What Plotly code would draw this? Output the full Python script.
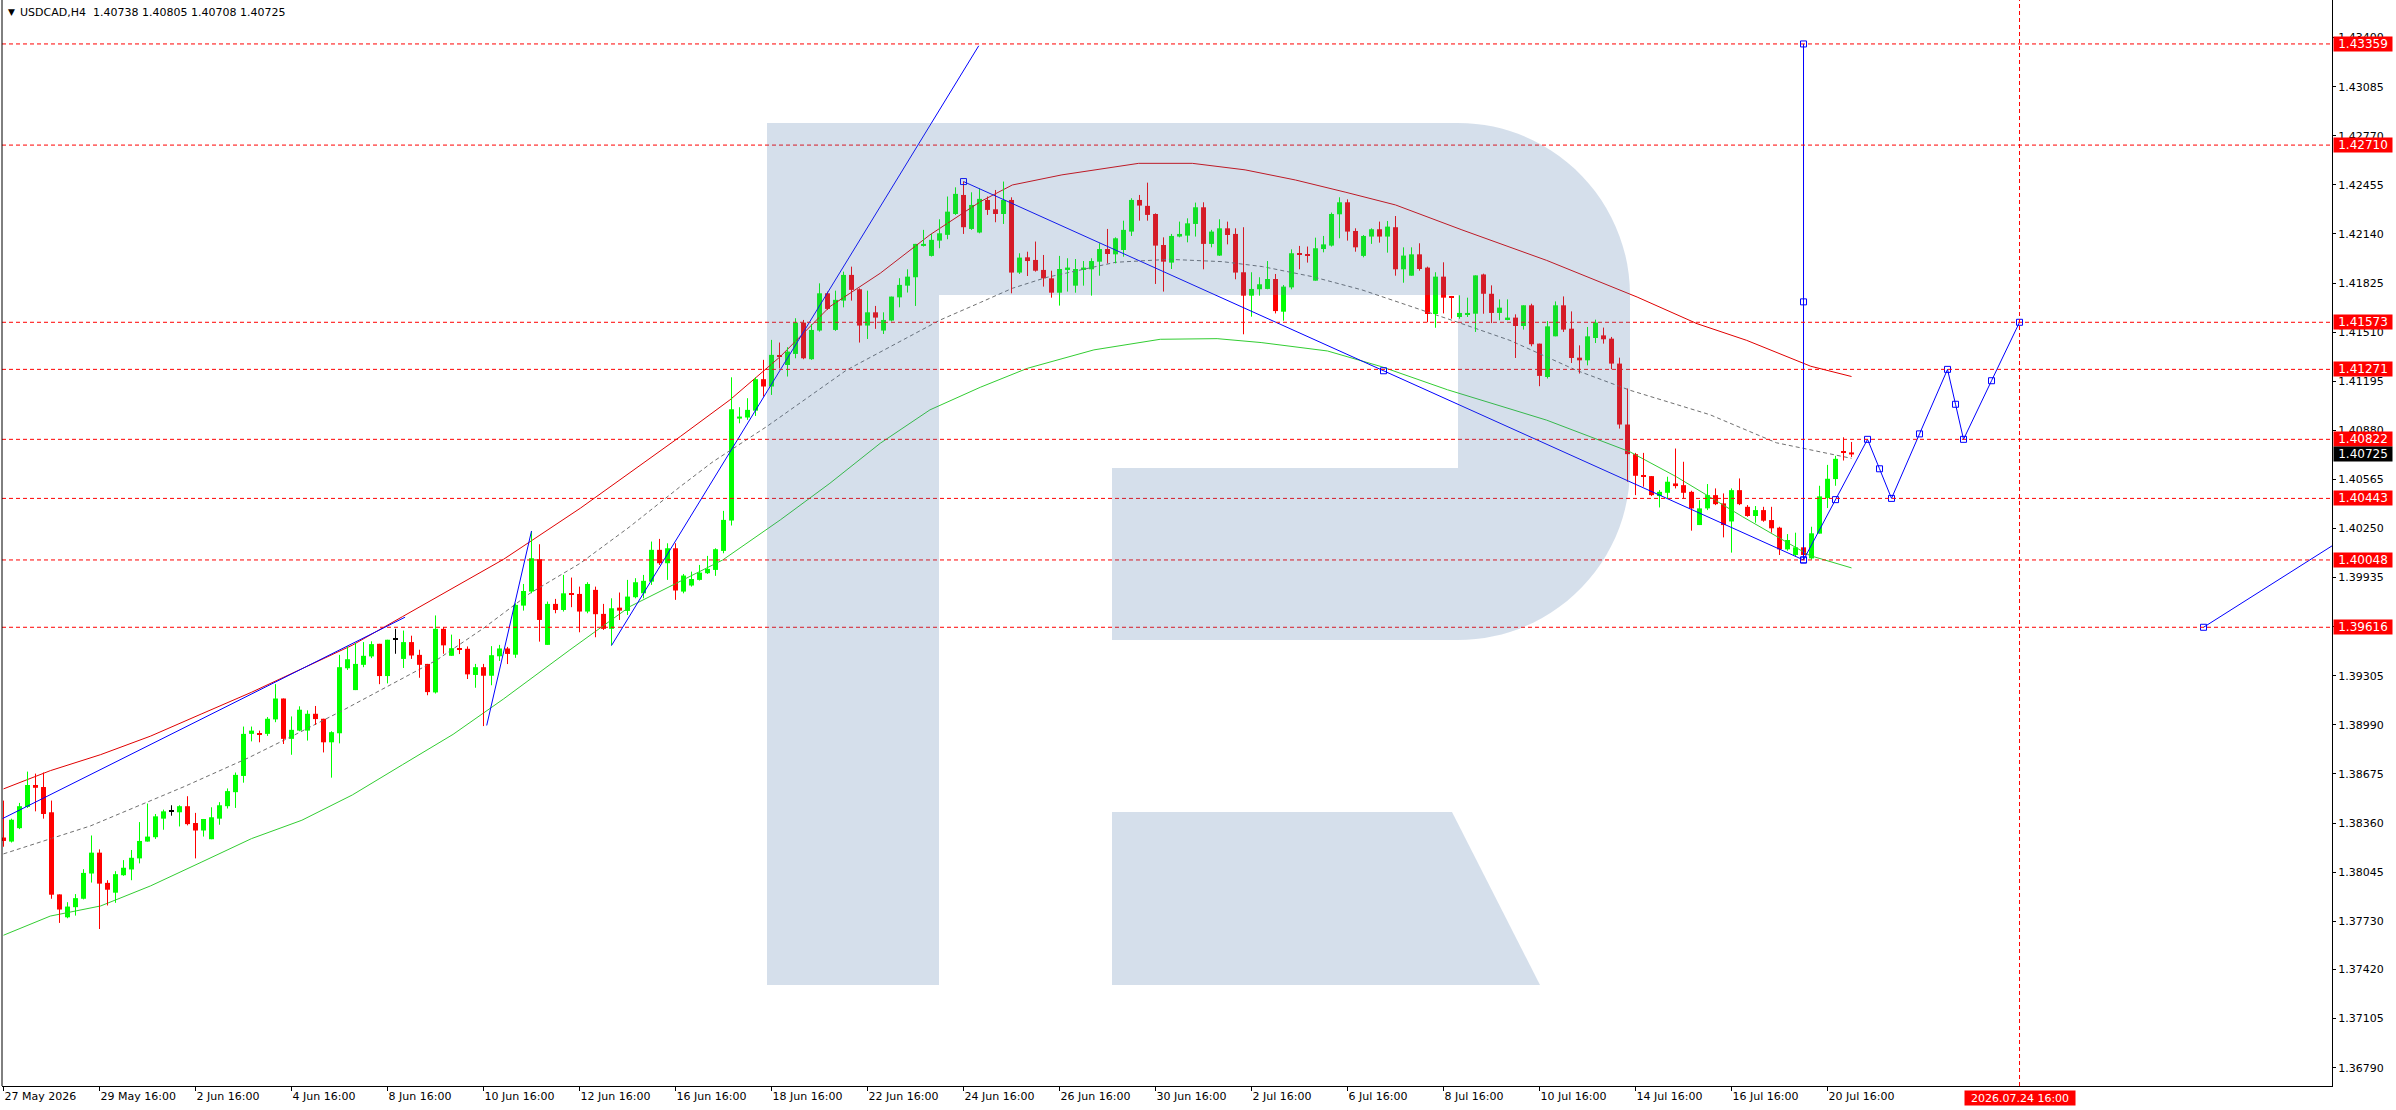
import plotly.graph_objects as go

# ---------------- data ----------------
open_ = [1.38267,1.38241,1.38327,1.38463,1.38604,1.38591,1.38429,1.37902,1.37755,1.37820,
 1.37874,1.38036,1.38170,1.37976,1.37913,1.38025,1.38062,1.38133,1.38241,1.38269,
 1.38388,1.38435,1.38429,1.38468,1.38360,1.38312,1.38256,1.38388,1.38468,1.38558,
 1.38662,1.38932,1.38934,1.38932,1.39025,1.39159,1.38900,1.38953,1.38953,1.39061,
 1.39029,1.38878,1.38936,1.39353,1.39213,1.39375,1.39429,1.39510,1.39303,1.39536,
 1.39413,1.39521,1.39439,1.39381,1.39198,1.39606,1.39433,1.39480,1.39478,1.39310,
 1.39360,1.39305,1.39430,1.39480,1.39440,1.39755,1.39845,1.40053,1.39503,1.39766,
 1.39727,1.39830,1.39830,1.39717,1.39856,1.39702,1.39606,1.39742,1.39721,1.39809,
 1.39834,1.39909,1.40113,1.40027,1.40123,1.39845,1.39884,1.39920,1.39963,1.39984,
 1.40106,1.40301,1.40955,1.40962,1.41006,1.41208,1.41161,1.41359,1.41299,1.41370,
 1.41571,1.41336,1.41520,1.41759,1.41524,1.41712,1.41877,1.41785,1.41552,1.41637,
 1.41520,1.41584,1.41733,1.41808,1.41862,1.42063,1.41999,1.42097,1.42134,1.42268,
 1.42390,1.42172,1.42149,1.42358,1.42298,1.42268,1.42358,1.41892,1.41990,1.41973,
 1.41909,1.41855,1.41763,1.41909,1.41808,1.41913,1.41913,1.41962,1.42043,1.42009,
 1.42037,1.42155,1.42358,1.42320,1.42268,1.42069,1.41956,1.42123,1.42129,1.42204,
 1.42311,1.42076,1.42001,1.42176,1.42140,1.41894,1.41744,1.41785,1.41787,1.41851,
 1.41641,1.41797,1.42016,1.42009,1.41840,1.42043,1.42065,1.42266,1.42343,1.42159,
 1.41999,1.42123,1.42170,1.42123,1.42183,1.41913,1.41872,1.42009,1.41924,1.41626,
 1.41866,1.41735,1.41607,1.41622,1.41628,1.41880,1.41756,1.41633,1.41592,1.41603,
 1.41549,1.41682,1.41436,1.41222,1.41483,1.41682,1.41532,1.41346,1.41329,1.41472,
 1.41489,1.41468,1.41308,1.40917,1.40727,1.40590,1.40586,1.40458,1.40479,1.40539,
 1.40528,1.40485,1.40272,1.40379,1.40464,1.40411,1.40295,1.40496,1.40389,1.40330,
 1.40368,1.40304,1.40255,1.40116,1.40080,1.40129,1.40058,1.40217,1.40445,1.40567,
 1.40741,1.40738]
high = [1.38504,1.38388,1.38489,1.38690,1.38677,1.38684,1.38504,1.37902,1.37852,1.37904,
 1.38064,1.38280,1.38191,1.37993,1.38051,1.38122,1.38187,1.38366,1.38485,1.38418,
 1.38446,1.38474,1.38474,1.38532,1.38425,1.38386,1.38461,1.38494,1.38582,1.38684,
 1.38979,1.38979,1.38953,1.39040,1.39251,1.39159,1.39044,1.39109,1.39083,1.39111,
 1.39029,1.38949,1.39439,1.39493,1.39515,1.39521,1.39526,1.39510,1.39536,1.39606,
 1.39595,1.39562,1.39472,1.39381,1.39692,1.39618,1.39569,1.39541,1.39493,1.39381,
 1.39381,1.39495,1.39503,1.39490,1.39770,1.39894,1.40234,1.40149,1.39781,1.39798,
 1.39952,1.39935,1.39877,1.39905,1.39877,1.39766,1.39802,1.39839,1.39920,1.39931,
 1.39952,1.40166,1.40183,1.40155,1.40155,1.39958,1.39973,1.40016,1.40074,1.40123,
 1.40363,1.41220,1.41028,1.41086,1.41220,1.41332,1.41460,1.41443,1.41413,1.41599,
 1.41588,1.41562,1.41823,1.41770,1.41776,1.41898,1.41930,1.41791,1.41776,1.41678,
 1.41637,1.41738,1.41856,1.41913,1.42076,1.42166,1.42140,1.42234,1.42380,1.42439,
 1.42476,1.42407,1.42433,1.42380,1.42422,1.42476,1.42375,1.42016,1.42026,1.42091,
 1.42005,1.41904,1.41999,1.41984,1.41979,1.41966,1.41984,1.42080,1.42172,1.42118,
 1.42225,1.42369,1.42390,1.42469,1.42272,1.42118,1.42140,1.42219,1.42240,1.42341,
 1.42343,1.42166,1.42234,1.42219,1.42176,1.42183,1.41894,1.41862,1.41966,1.41883,
 1.41812,1.42041,1.42063,1.42059,1.42116,1.42127,1.42277,1.42375,1.42362,1.42176,
 1.42133,1.42176,1.42219,1.42223,1.42255,1.42054,1.42054,1.42080,1.41930,1.41894,
 1.41958,1.41742,1.41746,1.41731,1.41874,1.41885,1.41810,1.41720,1.41720,1.41624,
 1.41682,1.41692,1.41436,1.41581,1.41707,1.41739,1.41643,1.41425,1.41543,1.41590,
 1.41539,1.41479,1.41346,1.41148,1.40735,1.40735,1.40586,1.40496,1.40582,1.40763,
 1.40678,1.40492,1.40432,1.40535,1.40507,1.40475,1.40507,1.40571,1.40400,1.40394,
 1.40389,1.40389,1.40261,1.40214,1.40223,1.40129,1.40261,1.40524,1.40658,1.40716,
 1.40835,1.40805]
low = [1.38208,1.38235,1.38321,1.38457,1.38435,1.38388,1.37874,1.37719,1.37749,1.37766,
 1.37870,1.37978,1.37680,1.37831,1.37848,1.38021,1.37993,1.38101,1.38241,1.38258,
 1.38317,1.38407,1.38338,1.38345,1.38133,1.38273,1.38256,1.38349,1.38453,1.38457,
 1.38619,1.38884,1.38878,1.38919,1.39007,1.38867,1.38798,1.38949,1.38889,1.38990,
 1.38813,1.38651,1.38871,1.39342,1.39213,1.39360,1.39418,1.39251,1.39256,1.39446,
 1.39355,1.39413,1.39292,1.39180,1.39191,1.39446,1.39433,1.39444,1.39284,1.39228,
 1.38982,1.39244,1.39400,1.39380,1.39420,1.39723,1.39834,1.39524,1.39503,1.39706,
 1.39717,1.39745,1.39584,1.39706,1.39552,1.39599,1.39500,1.39663,1.39695,1.39802,
 1.39802,1.39888,1.40016,1.39920,1.39792,1.39834,1.39877,1.39916,1.39958,1.39946,
 1.40091,1.40269,1.40925,1.40947,1.40972,1.41096,1.41107,1.41278,1.41225,1.41342,
 1.41336,1.41332,1.41513,1.41652,1.41518,1.41669,1.41712,1.41443,1.41466,1.41531,
 1.41498,1.41578,1.41669,1.41764,1.41678,1.42059,1.41995,1.42048,1.42106,1.42262,
 1.42140,1.42166,1.42144,1.42262,1.42215,1.42204,1.41759,1.41883,1.41870,1.41898,
 1.41802,1.41731,1.41680,1.41770,1.41763,1.41808,1.41744,1.41872,1.41951,1.41951,
 1.41994,1.42127,1.42225,1.42225,1.41819,1.41770,1.41915,1.42118,1.42086,1.42123,
 1.41913,1.42054,1.41999,1.42073,1.41849,1.41496,1.41609,1.41744,1.41785,1.41630,
 1.41583,1.41785,1.41913,1.41956,1.41840,1.42022,1.42059,1.42112,1.42097,1.42026,
 1.41990,1.42076,1.42084,1.42020,1.41872,1.41827,1.41872,1.41904,1.41573,1.41538,
 1.41630,1.41596,1.41596,1.41607,1.41511,1.41628,1.41568,1.41586,1.41586,1.41344,
 1.41526,1.41419,1.41163,1.41212,1.41483,1.41511,1.41312,1.41244,1.41297,1.41440,
 1.41436,1.41272,1.40891,1.40550,1.40464,1.40518,1.40458,1.40385,1.40443,1.40507,
 1.40443,1.40236,1.40272,1.40368,1.40400,1.40193,1.40095,1.40400,1.40325,1.40287,
 1.40293,1.40223,1.40080,1.40107,1.40069,1.40048,1.40050,1.40217,1.40381,1.40524,
 1.40686,1.40708]
close = [1.38245,1.38381,1.38468,1.38604,1.38586,1.38418,1.37900,1.37805,1.37824,1.37878,
 1.38040,1.38170,1.37971,1.37932,1.38032,1.38073,1.38137,1.38245,1.38273,1.38403,
 1.38435,1.38435,1.38468,1.38353,1.38312,1.38386,1.38397,1.38474,1.38565,1.38669,
 1.38932,1.38953,1.38930,1.39029,1.39159,1.38900,1.38958,1.39087,1.39061,1.39027,
 1.38878,1.38943,1.39360,1.39411,1.39381,1.39433,1.39508,1.39303,1.39536,1.39536,
 1.39521,1.39435,1.39375,1.39200,1.39606,1.39500,1.39482,1.39476,1.39314,1.39360,
 1.39305,1.39437,1.39480,1.39445,1.39760,1.39849,1.40059,1.39663,1.39766,1.39727,
 1.39834,1.39826,1.39717,1.39894,1.39700,1.39606,1.39738,1.39723,1.39813,1.39905,
 1.39914,1.40113,1.40027,1.40123,1.39852,1.39948,1.39926,1.39967,1.39991,1.40117,
 1.40305,1.41015,1.40968,1.41011,1.41208,1.41161,1.41364,1.41355,1.41385,1.41571,
 1.41342,1.41524,1.41759,1.41659,1.41717,1.41877,1.41781,1.41552,1.41637,1.41603,
 1.41588,1.41738,1.41813,1.41866,1.42076,1.42076,1.42102,1.42144,1.42283,1.42397,
 1.42183,1.42326,1.42365,1.42294,1.42268,1.42358,1.41892,1.41988,1.41966,1.41904,
 1.41855,1.41763,1.41915,1.41924,1.41915,1.41924,1.41966,1.42043,1.42011,1.42112,
 1.42166,1.42358,1.42322,1.42262,1.42065,1.41962,1.42127,1.42140,1.42208,1.42311,
 1.42076,1.42155,1.42176,1.42133,1.41892,1.41744,1.41787,1.41817,1.41851,1.41645,
 1.41802,1.42016,1.42005,1.42001,1.42048,1.42073,1.42268,1.42343,1.42155,1.42054,
 1.42127,1.42170,1.42123,1.42187,1.41913,1.42001,1.42009,1.41915,1.41626,1.41866,
 1.41731,1.41731,1.41633,1.41633,1.41874,1.41756,1.41633,1.41667,1.41603,1.41549,
 1.41682,1.41432,1.41229,1.41547,1.41682,1.41526,1.41344,1.41329,1.41483,1.41571,
 1.41464,1.41308,1.40917,1.40727,1.40588,1.40586,1.40464,1.40485,1.40550,1.40522,
 1.40479,1.40379,1.40379,1.40464,1.40406,1.40272,1.40496,1.40406,1.40330,1.40368,
 1.40300,1.40251,1.40116,1.40176,1.40129,1.40080,1.40219,1.40456,1.40569,1.40697,
 1.40737,1.40725]

# moving-average style lines (bar index, price)
ma_red_x = [0,5.85,12.15,18.4,24.7,31.0,37.3,43.6,49.9,56.2,62.5,72.1,84.6,90.8,97.1,103.3,
            109.6,115.8,122.1,126.1,132.3,141.9,148.6,155.2,161.5,167.8,174.0,182.3,192.9,
            204.2,211.7,217.9,225.9,231]
ma_red_y = [1.38579,1.38696,1.38799,1.38918,1.39059,1.39199,1.39350,1.39501,1.39685,1.39869,
            1.40052,1.40380,1.40840,1.41075,1.41353,1.41674,1.41888,1.42134,1.42347,1.42454,
            1.42519,1.42593,1.42593,1.42551,1.42486,1.42407,1.42326,1.42166,1.41970,1.41735,
            1.41564,1.41457,1.41291,1.41225]
ma_gray_x = [0,10.9,22.6,30.6,36.1,42.3,54.1,60.0,65.8,72.1,78.3,84.6,88.7,95.4,105.4,117.1,
             122.1,126.1,130.3,139.0,145.7,152.4,157.4,163.6,169.8,176.1,181.4,188.3,196.6,
             203.3,213.3,221.6,231]
ma_gray_y = [1.38162,1.38342,1.38594,1.38778,1.38918,1.39080,1.39404,1.39610,1.39834,1.40027,
             1.40262,1.40519,1.40679,1.40904,1.41267,1.41588,1.41700,1.41791,1.41860,1.41958,
             1.41977,1.41962,1.41930,1.41866,1.41781,1.41674,1.41580,1.41457,1.41265,1.41137,
             1.40980,1.40800,1.40700]
ma_green_x = [0,5.85,12.15,18.4,24.7,31.0,37.3,43.6,49.9,56.2,62.5,70.8,78.3,89.9,97.1,103.3,
              109.6,115.8,122.1,128.0,136.3,144.6,151.7,157.2,165.5,172.2,180.5,192.9,203.3,
              209.1,217.4,225.8,231]
ma_green_y = [1.37640,1.37763,1.37828,1.37957,1.38108,1.38260,1.38378,1.38540,1.38735,1.38929,
              1.39156,1.39471,1.39749,1.40048,1.40305,1.40540,1.40797,1.41011,1.41156,1.41278,
              1.41396,1.41464,1.41468,1.41443,1.41389,1.41289,1.41140,1.40945,1.40742,1.40582,
              1.40325,1.40076,1.39997]

# blue drawing objects
line1_x, line1_y = [-0.1, 50.2], [1.38389, 1.39681]
line2_x, line2_y = [60.4, 66.0], [1.38986, 1.40234]
line3_x, line3_y = [76.0, 121.9], [1.39499, 1.43347]
line4_x, line4_y = [120.0, 172.5, 225.0], [1.42476, 1.41262, 1.40048]
vert_x, vert_y = [225.0, 225.0, 225.0], [1.40048, 1.41704, 1.43359]
zig_x = [225, 229, 233, 234.5, 236, 239.5, 243, 244, 245, 248.5, 252]
zig_y = [1.40048, 1.40435, 1.40822, 1.40633, 1.40443, 1.40857, 1.41271, 1.41047, 1.40822, 1.41198, 1.41573]
right_x, right_y = [275.0, 300.0], [1.39616, 1.40429]

level_values = [1.43359, 1.42710, 1.41573, 1.41271, 1.40822, 1.40443, 1.40048, 1.39616]
current_price = 1.40725
future_bar = 252
future_label = "2026.07.24 16:00"

x_tick_idx = [0, 12, 24, 36, 48, 60, 72, 84, 96, 108, 120, 132, 144, 156, 168, 180, 192, 204, 216, 228]
x_tick_text = ["27 May 2026", "29 May 16:00", "2 Jun 16:00", "4 Jun 16:00", "8 Jun 16:00",
               "10 Jun 16:00", "12 Jun 16:00", "16 Jun 16:00", "18 Jun 16:00", "22 Jun 16:00",
               "24 Jun 16:00", "26 Jun 16:00", "30 Jun 16:00", "2 Jul 16:00", "6 Jul 16:00",
               "8 Jul 16:00", "10 Jul 16:00", "14 Jul 16:00", "16 Jul 16:00", "20 Jul 16:00"]
y_tick_text = ["1.43400", "1.43085", "1.42770", "1.42455", "1.42140", "1.41825", "1.41510",
               "1.41195", "1.40880", "1.40565", "1.40250", "1.39935", "1.39620", "1.39305",
               "1.38990", "1.38675", "1.38360", "1.38045", "1.37730", "1.37420", "1.37105", "1.36790"]
title_text = "USDCAD,H4\u00a0 1.40738 1.40805 1.40708 1.40725"

# ---------------- styling ----------------
GREEN = "#00FF00"
RED = "#FF0000"
BLUE = "#0000FF"
FONT = "DejaVu Sans"

fig = go.Figure()

n = len(open_)
idx = list(range(n))
body_base, body_h, body_col = [], [], []
wick = {GREEN: ([], []), RED: ([], []), "#000000": ([], [])}
for i in idx:
    o, c = open_[i], close[i]
    col = GREEN if c > o else (RED if c < o else "#000000")
    body_base.append(min(o, c))
    body_h.append(max(abs(c - o), 0.00007))
    body_col.append(col)
    wx, wy = wick[col]
    wx += [i, i, None]
    wy += [low[i], high[i], None]

# moving averages
fig.add_trace(go.Scatter(x=ma_red_x, y=ma_red_y, mode="lines", line=dict(color="#E00000", width=1)))
fig.add_trace(go.Scatter(x=ma_green_x, y=ma_green_y, mode="lines", line=dict(color="#32CD32", width=1)))
fig.add_trace(go.Scatter(x=ma_gray_x, y=ma_gray_y, mode="lines",
                         line=dict(color="#707070", width=1, dash="4px,3px")))

for col, (wx, wy) in wick.items():
    fig.add_trace(go.Scatter(x=wx, y=wy, mode="lines", line=dict(color=col, width=1)))
fig.add_trace(go.Bar(x=idx, y=body_h, base=body_base, width=0.62,
                     marker=dict(color=body_col, line=dict(width=0))))

# blue lines
for xs, ys in [(line1_x, line1_y), (line2_x, line2_y), (line3_x, line3_y), (line4_x, line4_y),
               (vert_x, vert_y), (zig_x, zig_y), (right_x, right_y)]:
    fig.add_trace(go.Scatter(x=xs, y=ys, mode="lines", line=dict(color=BLUE, width=1)))
sq_x = line4_x + vert_x[1:] + zig_x + right_x[:1]
sq_y = line4_y + vert_y[1:] + zig_y + right_y[:1]
fig.add_trace(go.Scatter(x=sq_x, y=sq_y, mode="markers",
                         marker=dict(symbol="square-open", size=6, color=BLUE, line=dict(width=1, color=BLUE))))

shapes = []
for v in level_values:
    shapes.append(dict(type="line", xref="paper", x0=0, x1=1, yref="y", y0=v, y1=v,
                       line=dict(color=RED, width=1, dash="4px,3px")))
shapes.append(dict(type="line", xref="x", x0=future_bar, x1=future_bar, yref="paper", y0=0, y1=1,
                   line=dict(color=RED, width=1, dash="4px,3px")))
# left frame line
shapes.append(dict(type="line", xref="paper", x0=0, x1=0, yref="paper", y0=0, y1=1,
                   line=dict(color="#000000", width=1)))

# watermark logo (decoration, drawn in paper space)
PL, PT, PW, PH = 2.0, 0.0, 2330.0, 1086.0
def P(xp, yp):
    return f"{(xp - PL) / PW:.5f},{(PT + PH - yp) / PH:.5f}"
r = 172.0
k = 0.552 * r
stem = f"M {P(767,123)} L {P(939,123)} L {P(939,985)} L {P(767,985)} Z"
bowl = (f"M {P(939,123)} L {P(1458,123)} C {P(1458+k,123)} {P(1630,295-k)} {P(1630,295)} "
        f"L {P(1630,468)} C {P(1630,468+k)} {P(1458+k,640)} {P(1458,640)} "
        f"L {P(1112,640)} L {P(1112,468)} L {P(1458,468)} L {P(1458,295)} L {P(939,295)} Z")
leg = f"M {P(1112,812)} L {P(1452,812)} L {P(1540,985)} L {P(1112,985)} Z"
for pth in (stem, bowl, leg):
    shapes.append(dict(type="path", xref="paper", yref="paper", path=pth,
                       fillcolor="rgba(75,115,167,0.23)", line=dict(width=0), layer="above"))

annotations = []
for v in level_values:
    annotations.append(dict(xref="paper", x=1, xanchor="left", xshift=1, yref="y", y=v,
                            yanchor="middle", text=f"{v:.5f}", showarrow=False, bgcolor=RED,
                            width=58, height=14, borderpad=0, align="center",
                            font=dict(family=FONT, size=12, color="#FFFFFF")))
annotations.append(dict(xref="paper", x=1, xanchor="left", xshift=1, yref="y", y=current_price,
                        yanchor="middle", text=f"{current_price:.5f}", showarrow=False, bgcolor="#000000",
                        width=58, height=14, borderpad=0, align="center",
                        font=dict(family=FONT, size=12, color="#FFFFFF")))
annotations.append(dict(xref="x", x=future_bar, xanchor="center", yref="paper", y=0, yanchor="top",
                        yshift=-4, text=future_label, showarrow=False, bgcolor=RED,
                        width=110, height=14, borderpad=0,
                        font=dict(family=FONT, size=11, color="#FFFFFF")))
annotations.append(dict(xref="paper", x=0, xanchor="left", xshift=16, yref="paper", y=1,
                        yanchor="middle", yshift=-12, text=title_text, showarrow=False,
                        font=dict(family=FONT, size=11, color="#000000")))
annotations.append(dict(xref="paper", x=0, xanchor="center", xshift=9, yref="paper", y=1,
                        yanchor="middle", yshift=-12, text="\u25bc", showarrow=False,
                        font=dict(family=FONT, size=9, color="#000000")))

fig.update_layout(
    width=2396, height=1110,
    margin=dict(l=2, r=64, t=0, b=24, autoexpand=False),
    paper_bgcolor="#FFFFFF", plot_bgcolor="#FFFFFF",
    showlegend=False, hovermode=False, barmode="overlay",
    font=dict(family=FONT, size=11, color="#000000"),
    shapes=shapes, annotations=annotations,
    xaxis=dict(range=[-0.1875, 291.06], showgrid=False, zeroline=False, showline=True,
               linecolor="#000000", linewidth=1, ticks="outside", ticklen=4, tickcolor="#000000",
               tickvals=x_tick_idx, ticktext=x_tick_text, ticklabelposition="outside right",
               tickfont=dict(family=FONT, size=11, color="#000000"), automargin=False, fixedrange=True),
    yaxis=dict(range=[1.366726, 1.43641], side="right", showgrid=False, zeroline=False,
               showline=True, linecolor="#000000", linewidth=1, ticks="outside", ticklen=3,
               tickcolor="#000000", tickvals=[float(t) for t in y_tick_text], ticktext=y_tick_text,
               tickfont=dict(family=FONT, size=11, color="#000000"), automargin=False, fixedrange=True),
)

fig.write_html("out.html", config={"displayModeBar": False},
               post_script="document.body.style.margin='0';document.body.style.overflow='hidden';")
